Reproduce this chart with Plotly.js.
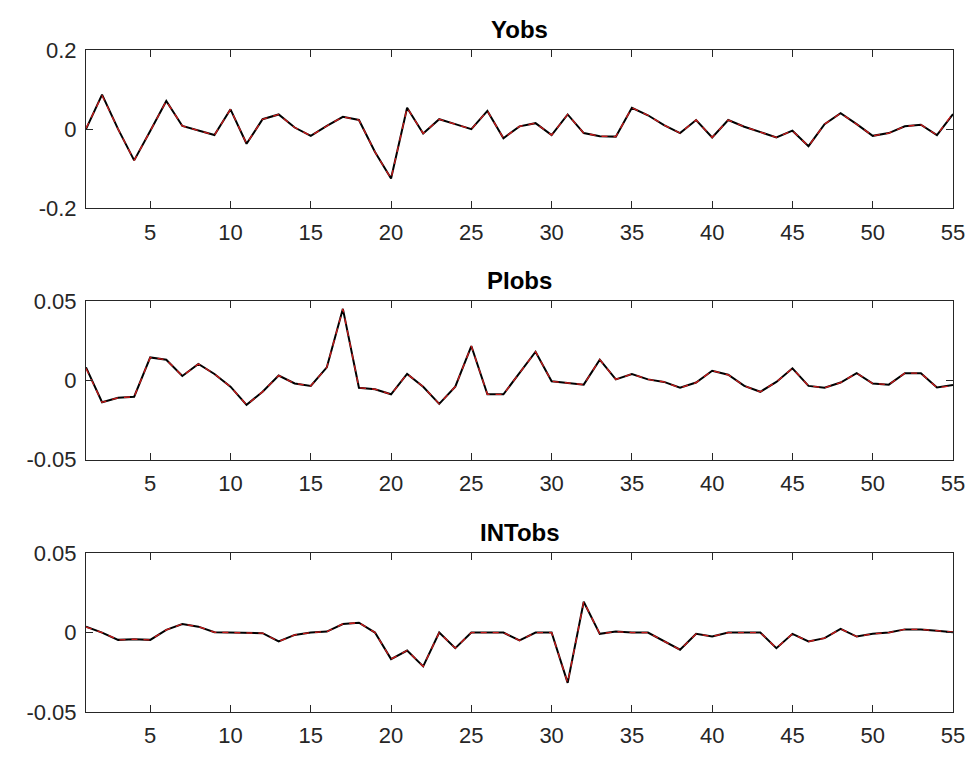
<!DOCTYPE html>
<html>
<head>
<meta charset="utf-8">
<script src="https://cdn.plot.ly/plotly-3.0.1.min.js"></script>
<style>html,body{margin:0;padding:0;background:#fff;}#chart{width:974px;height:761px;}</style>
</head>
<body>
<div id="chart"></div>
<script>
const periods = Array.from({length: 55}, (_, i) => i + 1);

const titles = ["Yobs", "PIobs", "INTobs"];

const yobsData = [0.0, 0.087, 0.0, -0.079, -0.005, 0.071, 0.008, -0.004, -0.015, 0.05,
  -0.037, 0.025, 0.037, 0.004, -0.017, 0.008, 0.031, 0.023, -0.058, -0.125,
  0.054, -0.011, 0.025, 0.0125, 0.0, 0.046, -0.023, 0.007, 0.015, -0.015,
  0.037, -0.01, -0.018, -0.019, 0.054, 0.035, 0.01, -0.01, 0.023, -0.021,
  0.023, 0.006, -0.008, -0.021, -0.004, -0.043, 0.0125, 0.04, 0.0125, -0.017,
  -0.01, 0.007, 0.011, -0.015, 0.038];
const yobsModel = [0.002, 0.085, 0.0, -0.079, -0.005, 0.071, 0.008, -0.004, -0.015, 0.05,
  -0.037, 0.025, 0.037, 0.004, -0.017, 0.008, 0.031, 0.023, -0.058, -0.125,
  0.054, -0.011, 0.025, 0.0125, 0.0, 0.046, -0.023, 0.007, 0.015, -0.015,
  0.037, -0.01, -0.018, -0.019, 0.054, 0.035, 0.01, -0.01, 0.023, -0.021,
  0.023, 0.006, -0.008, -0.021, -0.004, -0.043, 0.0125, 0.04, 0.0125, -0.017,
  -0.01, 0.007, 0.011, -0.015, 0.04];

const piobsData = [0.0082, -0.0138, -0.011, -0.0103, 0.0144, 0.013, 0.0027, 0.0103, 0.004, -0.004,
  -0.0154, -0.0072, 0.003, -0.002, -0.0035, 0.0082, 0.045, -0.0047, -0.0056, -0.0088,
  0.004, -0.004, -0.0148, -0.004, 0.0216, -0.0088, -0.0088, 0.005, 0.018, -0.0006,
  -0.0016, -0.0027, 0.013, 0.0006, 0.004, 0.0006, -0.001, -0.0047, -0.0014, 0.006,
  0.0035, -0.0035, -0.0072, -0.001, 0.0076, -0.0035, -0.0047, -0.0014, 0.0045, -0.002,
  -0.0027, 0.0045, 0.0045, -0.0045, -0.003];
const piobsModel = [0.0075, -0.0138, -0.011, -0.0103, 0.0144, 0.013, 0.0027, 0.0103, 0.004, -0.004,
  -0.0154, -0.0072, 0.003, -0.002, -0.0035, 0.0082, 0.045, -0.0047, -0.0056, -0.0088,
  0.004, -0.004, -0.0148, -0.004, 0.0216, -0.0088, -0.0088, 0.005, 0.018, -0.0006,
  -0.0016, -0.0027, 0.013, 0.0006, 0.004, 0.0006, -0.001, -0.0047, -0.0014, 0.006,
  0.0035, -0.0035, -0.0072, -0.001, 0.0076, -0.0035, -0.0047, -0.0014, 0.0045, -0.002,
  -0.0027, 0.0045, 0.0045, -0.0045, -0.0035];

const intobsData = [0.0037, 0.0, -0.0046, -0.0042, -0.0046, 0.0017, 0.0054, 0.0037, 0.0002, 0.0,
  0.0, -0.0004, -0.0056, -0.0015, 0.0, 0.0006, 0.0054, 0.0062, 0.0, -0.0167,
  -0.0113, -0.0213, 0.0, -0.0098, 0.0, 0.0, 0.0, -0.005, 0.0, 0.0,
  -0.0317, 0.0194, -0.0008, 0.0006, 0.0, 0.0, -0.0056, -0.0108, -0.0008, -0.0025,
  0.0, 0.0, 0.0, -0.0098, -0.0008, -0.0056, -0.0035, 0.0023, -0.0025, -0.0008,
  0.0, 0.002, 0.002, 0.0012, 0.0002];
const intobsModel = [0.0035, 0.0, -0.0046, -0.0042, -0.0046, 0.0017, 0.0054, 0.0037, 0.0002, 0.0,
  0.0, -0.0004, -0.0056, -0.0015, 0.0, 0.0006, 0.0054, 0.0062, 0.0, -0.0167,
  -0.0113, -0.0213, 0.0, -0.0098, 0.0, 0.0, 0.0, -0.005, 0.0, 0.0,
  -0.0317, 0.0194, -0.0008, 0.0006, 0.0, 0.0, -0.0056, -0.0108, -0.0008, -0.0025,
  0.0, 0.0, 0.0, -0.0098, -0.0008, -0.0056, -0.0035, 0.0023, -0.0025, -0.0008,
  0.0, 0.002, 0.002, 0.0012, 0.0002];

const xTickVals = [5, 10, 15, 20, 25, 30, 35, 40, 45, 50, 55];
const yTickVals1 = [-0.2, 0, 0.2];
const yTickText1 = ["-0.2", "0", "0.2"];
const yTickVals2 = [-0.05, 0, 0.05];
const yTickText2 = ["-0.05", "0", "0.05"];

const dataSets = [yobsData, piobsData, intobsData];
const modelSets = [yobsModel, piobsModel, intobsModel];
const axisColor = '#262626';
const fontFamily = 'Arial, "Liberation Sans", Helvetica, sans-serif';
const font = {family: fontFamily, size: 22, color: axisColor};

const traces = [];
for (let k = 0; k < 3; k++) {
  const suf = k === 0 ? '' : String(k + 1);
  traces.push({x: periods, y: dataSets[k], type: 'scatter', mode: 'lines',
    line: {color: '#000000', width: 2}, xaxis: 'x' + suf, yaxis: 'y' + suf, hoverinfo: 'skip'});
  traces.push({x: periods, y: modelSets[k], type: 'scatter', mode: 'lines',
    line: {color: '#ff2020', width: 1.3, dash: '6px,6px'}, opacity: 0.8,
    xaxis: 'x' + suf, yaxis: 'y' + suf, hoverinfo: 'skip'});
}

const domains = [[0.761, 1.0], [0.381, 0.621], [0.0, 0.240]];

function xAxis(anchor) {
  return {range: [1, 55], tickvals: xTickVals, ticktext: xTickVals.map(String),
    ticks: 'inside', ticklen: 7, tickcolor: axisColor, tickwidth: 1,
    showline: true, linecolor: axisColor, linewidth: 1, mirror: 'ticks',
    showgrid: false, zeroline: false, anchor: anchor, tickfont: font, ticklabelstandoff: 4};
}
function yAxis(anchor, dom, vals, text) {
  return {range: [vals[0], vals[2]], tickvals: vals, ticktext: text, domain: dom,
    ticks: 'inside', ticklen: 7, tickcolor: axisColor, tickwidth: 1,
    showline: true, linecolor: axisColor, linewidth: 1, mirror: 'ticks',
    showgrid: false, zeroline: false, anchor: anchor, tickfont: font, ticklabelstandoff: 4};
}

const annotations = titles.map((t, k) => ({
  text: '<b>' + t + '</b>', xref: 'paper', yref: 'paper', x: 0.5, y: domains[k][1],
  xanchor: 'center', yanchor: 'bottom', yshift: 5, showarrow: false,
  font: {family: fontFamily, size: 24, color: '#000000'}
}));

const layout = {
  width: 974, height: 761,
  margin: {l: 86, r: 21, t: 50, b: 49},
  paper_bgcolor: '#ffffff', plot_bgcolor: '#ffffff',
  showlegend: false,
  xaxis: xAxis('y'), xaxis2: xAxis('y2'), xaxis3: xAxis('y3'),
  yaxis: yAxis('x', domains[0], yTickVals1, yTickText1),
  yaxis2: yAxis('x2', domains[1], yTickVals2, yTickText2),
  yaxis3: yAxis('x3', domains[2], yTickVals2, yTickText2),
  annotations: annotations
};

Plotly.newPlot('chart', traces, layout, {staticPlot: true, displayModeBar: false});
</script>
</body>
</html>
